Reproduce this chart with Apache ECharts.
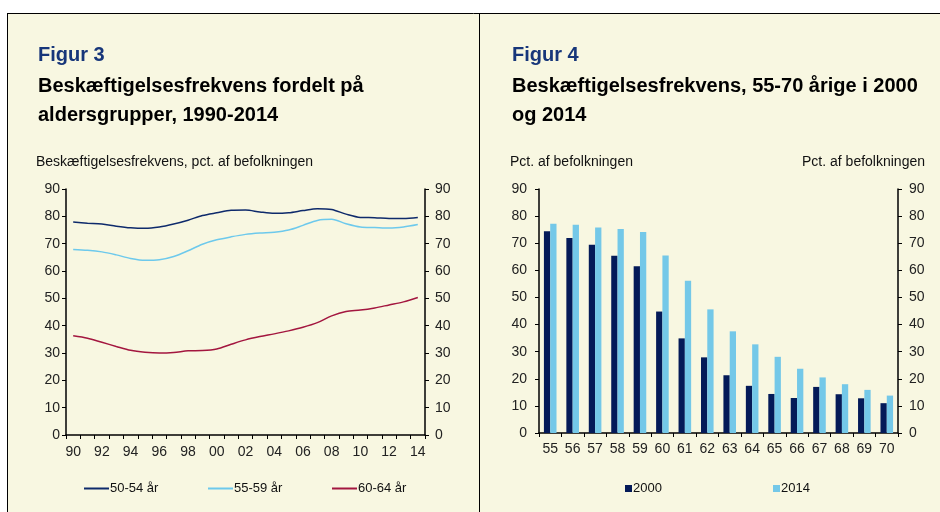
<!DOCTYPE html>
<html>
<head>
<meta charset="utf-8">
<script src="https://cdn.jsdelivr.net/npm/echarts@6/dist/echarts.min.js"></script>
<style>
html,body{margin:0;padding:0;background:#fff;}
#chart{width:940px;height:512px;}
</style>
</head>
<body>
<div id="chart"></div>
<script>
// Figur 3 data
var years = ['90','91','92','93','94','95','96','97','98','99','00','01','02','03','04','05','06','07','08','09','10','11','12','13','14'];
var s5054 = [77.9,77.5,77.2,76.4,75.8,75.6,76.1,77.2,78.6,80.3,81.3,82.2,82.3,81.6,81.1,81.3,82.1,82.8,82.5,80.8,79.6,79.5,79.2,79.2,79.6];
var s5559 = [67.9,67.6,67.0,65.9,64.6,63.9,64.1,65.3,67.4,69.8,71.4,72.5,73.4,73.9,74.2,75.0,76.7,78.5,78.9,77.3,76.1,75.9,75.7,76.1,77.0];
var s6064 = [36.3,35.4,33.9,32.4,31.0,30.3,30.0,30.2,30.8,30.9,31.5,33.2,34.8,36.0,37.0,38.1,39.4,41.1,43.6,45.2,45.7,46.5,47.6,48.7,50.3];
var lineNames = ['50-54 år','55-59 år','60-64 år'];

// Figur 4 data
var ages = ['55','56','57','58','59','60','61','62','63','64','65','66','67','68','69','70'];
var y2000 = [74.4,71.9,69.4,65.4,61.5,44.8,34.9,27.9,21.3,17.4,14.4,12.9,17.0,14.3,12.8,11.0];
var y2014 = [77.2,76.8,75.8,75.2,74.1,65.5,56.2,45.6,37.5,32.7,28.1,23.7,20.5,18.0,15.9,13.8];
var barNames = ['2000','2014'];

var yTicks = {min:0, max:90, interval:10};

var FONT = "'Liberation Sans', Arial, sans-serif";
var BG = '#F8F7E1';
var cNavyLine = '#0E2A6B', cLightLine = '#6DC9EC', cRedLine = '#A3163F';
var cNavyBar = '#041A58', cLightBar = '#74C8E8';

function yAx(gridIndex, pos, margin) {
  return {
    type:'value', gridIndex:gridIndex, position:pos,
    min:yTicks.min, max:yTicks.max, interval:yTicks.interval,
    splitLine:{show:false},
    axisLine:{show:true, lineStyle:{color:'#000', width:1.5}},
    axisTick:{show:true, length:4, lineStyle:{color:'#000', width:1}},
    axisLabel:{color:'#222', fontSize:14, fontFamily:FONT, margin:margin}
  };
}
function xAx(gridIndex, data, labelInterval, margin) {
  return {
    type:'category', gridIndex:gridIndex, data:data, boundaryGap:true,
    axisLine:{show:true, lineStyle:{color:'#000', width:1.5}},
    axisTick:{show:true, interval:0, length:4, lineStyle:{color:'#000', width:1}},
    axisLabel:{interval:labelInterval, color:'#222', fontSize:14, fontFamily:FONT, margin:margin}
  };
}
function leg(name, left, w, h, pad) {
  return {data:[name], left:left, top:482, padding:0, icon:'rect', itemWidth:w, itemHeight:h,
    textStyle:{fontSize:13, color:'#111', fontFamily:FONT, padding:[0,0,0,pad]}};
}

var chart = echarts.init(document.getElementById('chart'), null, {renderer:'canvas'});
var option = {
  backgroundColor:'#fff',
  animation:false,
  textStyle:{fontFamily:FONT},
  graphic:[
    {type:'rect', z:-100, shape:{x:7, y:13, width:933, height:499}, style:{fill:BG}},
    {type:'line', z:-90, shape:{x1:7, y1:13.5, x2:940, y2:13.5}, style:{stroke:'#000', lineWidth:1}},
    {type:'line', z:-90, shape:{x1:7.5, y1:13, x2:7.5, y2:512}, style:{stroke:'#000', lineWidth:1}},
    {type:'line', z:-90, shape:{x1:479.5, y1:13, x2:479.5, y2:512}, style:{stroke:'#000', lineWidth:1}},
    {type:'text', left:38, top:45, style:{text:'Figur 3', fill:'#17367A', font:'bold 20px ' + FONT}},
    {type:'text', left:38, top:72, style:{text:'Beskæftigelsesfrekvens fordelt på\naldersgrupper, 1990-2014', fill:'#000', font:'bold 20px ' + FONT, lineHeight:29}},
    {type:'text', left:36, top:155, style:{text:'Beskæftigelsesfrekvens, pct. af befolkningen', fill:'#111', font:'14px ' + FONT}},
    {type:'text', left:512, top:45, style:{text:'Figur 4', fill:'#17367A', font:'bold 20px ' + FONT}},
    {type:'text', left:512, top:72, style:{text:'Beskæftigelsesfrekvens, 55-70 årige i 2000\nog 2014', fill:'#000', font:'bold 20px ' + FONT, lineHeight:29}},
    {type:'text', left:510, top:155, style:{text:'Pct. af befolkningen', fill:'#111', font:'14px ' + FONT}},
    {type:'text', right:15, top:155, style:{text:'Pct. af befolkningen', fill:'#111', font:'14px ' + FONT}}
  ],
  grid:[
    {left:66, right:515, top:189, bottom:77},
    {left:539, right:42, top:189, bottom:79}
  ],
  xAxis:[ xAx(0, years, 1, 10), xAx(1, ages, 0, 9) ],
  yAxis:[ yAx(0,'left',6), yAx(0,'right',10), yAx(1,'left',12), yAx(1,'right',11) ],
  legend:[
    leg(lineNames[0], 84, 25, 2, -4),
    leg(lineNames[1], 208, 25, 2, -4),
    leg(lineNames[2], 332, 25, 2, -4),
    leg(barNames[0], 625, 7, 7, -4),
    leg(barNames[1], 773, 7, 7, -4)
  ],
  series:[
    {name:lineNames[0], type:'line', xAxisIndex:0, yAxisIndex:0, data:s5054, smooth:0.3, showSymbol:false, symbol:'none', lineStyle:{color:cNavyLine, width:1.5}, itemStyle:{color:cNavyLine}},
    {name:lineNames[1], type:'line', xAxisIndex:0, yAxisIndex:0, data:s5559, smooth:0.3, showSymbol:false, symbol:'none', lineStyle:{color:cLightLine, width:1.5}, itemStyle:{color:cLightLine}},
    {name:lineNames[2], type:'line', xAxisIndex:0, yAxisIndex:0, data:s6064, smooth:0.3, showSymbol:false, symbol:'none', lineStyle:{color:cRedLine, width:1.5}, itemStyle:{color:cRedLine}},
    {name:barNames[0], type:'bar', xAxisIndex:1, yAxisIndex:2, data:y2000, barWidth:6.3, barGap:'0%', itemStyle:{color:cNavyBar}},
    {name:barNames[1], type:'bar', xAxisIndex:1, yAxisIndex:2, data:y2014, barWidth:6.3, barGap:'0%', itemStyle:{color:cLightBar}}
  ]
};
chart.setOption(option);
</script>
</body>
</html>
